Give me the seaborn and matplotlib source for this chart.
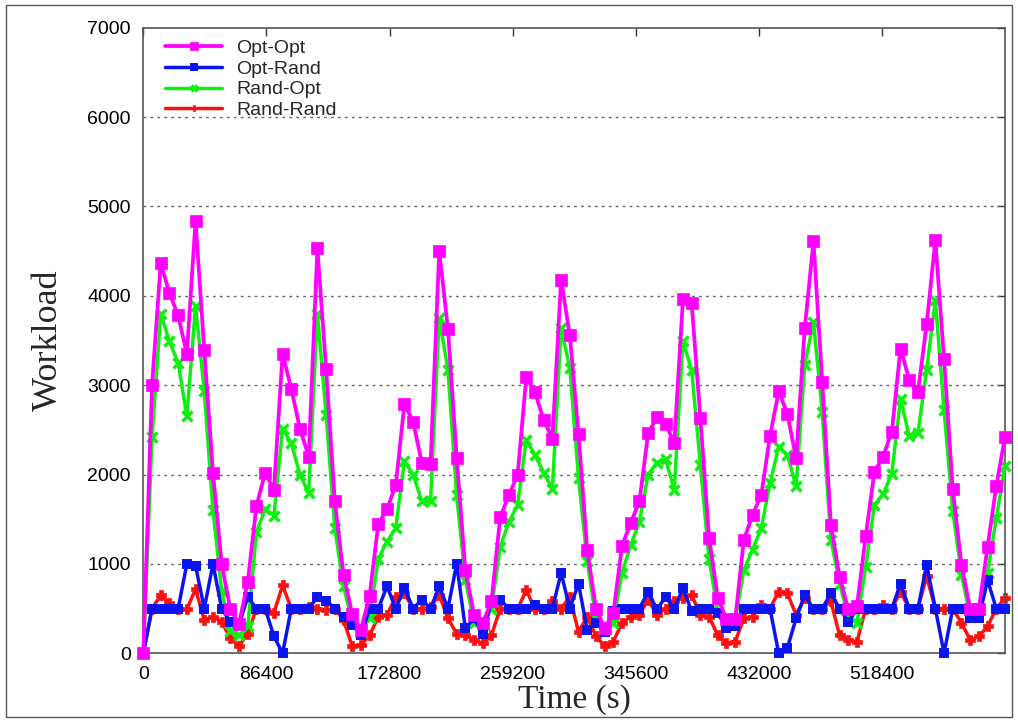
import matplotlib
matplotlib.use("Agg")
import matplotlib.pyplot as plt
from matplotlib.patches import Rectangle
import numpy as np
import pandas as pd
import seaborn as sns

# sample times: 100 samples over one week
time_s = np.linspace(0, 604800, 100)

opt_opt = [0, 3000, 4370, 4030, 3780, 3350, 4840, 3390, 2020, 1000,
           490, 330, 800, 1650, 2020, 1830, 3350, 2960, 2510, 2200,
           4530, 3180, 1700, 880, 440, 260, 645, 1450, 1610, 1880,
           2790, 2590, 2130, 2120, 4500, 3630, 2190, 930, 430, 340,
           580, 1520, 1770, 1990, 3090, 2920, 2610, 2400, 4180, 3560,
           2450, 1160, 500, 280, 450, 1200, 1460, 1700, 2460, 2640,
           2570, 2350, 3960, 3920, 2630, 1290, 620, 380, 380, 1270,
           1550, 1770, 2430, 2930, 2680, 2180, 3640, 4610, 3040, 1440,
           850, 490, 530, 1310, 2030, 2200, 2480, 3410, 3060, 2920,
           3680, 4620, 3290, 1840, 990, 500, 500, 1190, 1870, 2420]

opt_rand = [0, 500, 500, 500, 500, 1000, 980, 500, 1000, 500,
            350, 320, 630, 500, 500, 190, 0, 500, 500, 500,
            630, 590, 500, 410, 320, 200, 500, 500, 750, 500,
            730, 500, 600, 500, 750, 500, 1000, 280, 390, 220,
            580, 600, 500, 490, 500, 540, 490, 500, 900, 500,
            780, 260, 340, 240, 470, 490, 490, 500, 690, 490,
            630, 500, 730, 470, 490, 490, 450, 280, 300, 500,
            500, 500, 500, 0, 60, 390, 650, 500, 500, 670,
            500, 350, 490, 500, 500, 500, 500, 780, 500, 500,
            990, 500, 0, 500, 500, 390, 390, 820, 500, 500]

rand_opt = [0, 2420, 3800, 3490, 3250, 2650, 3890, 2930, 1600, 700,
            250, 200, 300, 1360, 1610, 1540, 2510, 2350, 2000, 1790,
            3800, 2670, 1400, 750, 350, 230, 400, 1060, 1250, 1400,
            2150, 2000, 1700, 1700, 3750, 3170, 1770, 820, 340, 320,
            500, 1190, 1470, 1660, 2390, 2220, 2020, 1840, 3640, 3190,
            1960, 1030, 390, 260, 340, 900, 1210, 1470, 2000, 2130,
            2170, 1830, 3490, 3170, 2110, 1050, 470, 350, 370, 930,
            1160, 1400, 1900, 2310, 2220, 1870, 3230, 3710, 2700, 1270,
            780, 410, 340, 970, 1660, 1780, 2010, 2850, 2430, 2460,
            3170, 3950, 2720, 1590, 880, 410, 480, 900, 1510, 2090]

rand_rand = [0, 500, 650, 560, 490, 490, 720, 370, 410, 350,
             170, 80, 220, 500, 500, 450, 760, 500, 500, 520,
             500, 480, 500, 370, 80, 90, 200, 410, 430, 630,
             670, 500, 490, 520, 650, 390, 220, 200, 150, 110,
             200, 500, 500, 490, 710, 490, 490, 580, 500, 630,
             240, 410, 190, 80, 130, 340, 410, 430, 600, 430,
             500, 580, 620, 650, 430, 410, 200, 110, 130, 390,
             410, 540, 500, 690, 670, 430, 620, 500, 500, 580,
             200, 150, 130, 500, 500, 540, 500, 690, 500, 500,
             860, 500, 500, 500, 340, 150, 190, 300, 500, 620]

series_names = ["Opt-Opt", "Opt-Rand", "Rand-Opt", "Rand-Rand"]
series_values = [opt_opt, opt_rand, rand_opt, rand_rand]
x_ticks = [0, 86400, 172800, 259200, 345600, 432000, 518400]
y_ticks = [0, 1000, 2000, 3000, 4000, 5000, 6000, 7000]

df = pd.DataFrame({
    "time": np.tile(time_s, len(series_names)),
    "workload": np.concatenate(series_values),
    "scheme": np.repeat(series_names, len(time_s)),
})

sns.set_style("white")
plt.rcParams["font.family"] = ["Liberation Sans", "DejaVu Sans"]

fig = plt.figure(figsize=(10.18, 7.22), dpi=100)
ax = fig.add_axes([0.1408, 0.0952, 0.8464, 0.8665])

styles = {
    "Opt-Opt":   dict(color="#ff00ff", marker="s", ms=8.5, mew=0.5, lw=2.7, z=5),
    "Opt-Rand":  dict(color="#0a14f0", marker="s", ms=6.0, mew=1.4, lw=2.5, z=4),
    "Rand-Opt":  dict(color="#11ee11", marker="x", ms=6.5, mew=2.5, lw=2.5, z=3),
    "Rand-Rand": dict(color="#ff1010", marker="P", ms=7.0, mew=0.5, lw=2.5, z=2),
}

for name in series_names:
    st = styles[name]
    sns.lineplot(data=df[df["scheme"] == name], x="time", y="workload",
                 ax=ax, color=st["color"], marker=st["marker"],
                 markersize=st["ms"], markeredgewidth=st["mew"],
                 markeredgecolor=st["color"], linewidth=st["lw"],
                 label=name, zorder=st["z"], clip_on=False)

ax.set_xlim(0, 604800)
ax.set_ylim(0, 7000)
ax.set_xticks(x_ticks)
ax.set_xticklabels([str(t) for t in x_ticks])
ax.set_yticks(y_ticks)

for yv in y_ticks[1:-1]:
    ax.axhline(yv, color="#666666", lw=1.0, ls=(0, (2, 3)), zorder=1)

ax.tick_params(direction="in", length=6, width=1, top=True, right=True,
               labelsize=14, pad=9, colors="#333333", labelcolor="black")
for sp in ax.spines.values():
    sp.set_color("#555555")
    sp.set_linewidth(1.2)

ax.set_xlabel("Time (s)", family="Liberation Serif", fontsize=24, labelpad=1)
ax.set_ylabel("Workload", family="Liberation Serif", fontsize=26, labelpad=16)

leg = ax.legend(loc="upper left", bbox_to_anchor=(0.012, 1.0), frameon=False,
                fontsize=14, handlelength=2.9, handletextpad=0.75,
                labelspacing=0.16, borderaxespad=0.2, markerscale=0.7)

fig.patches.append(Rectangle((6 / 1018, 5 / 722), 1006 / 1018, 712 / 722,
                             transform=fig.transFigure, fill=False,
                             edgecolor="#555555", lw=1.0))

fig.savefig("out.png", dpi=100)
